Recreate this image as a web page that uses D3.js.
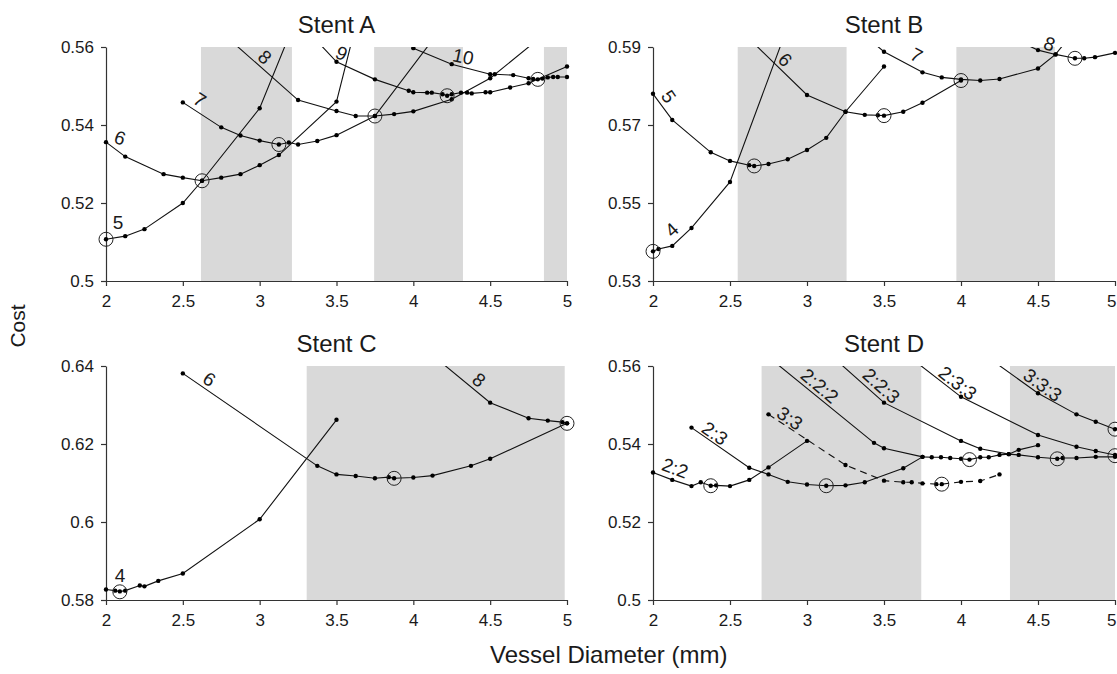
<!DOCTYPE html>
<html>
<head>
<meta charset="utf-8">
<script src="https://cdn.jsdelivr.net/npm/d3@7"></script>
<style>
  body { margin: 0; background: #fff; }
  svg text { font-family: "Liberation Sans", Arial, sans-serif; fill: #1a1a1a; }
</style>
</head>
<body>
<svg id="chart" width="1117" height="674"></svg>
<script>
// ---------- shared axis data ----------
const xTicks = [2, 2.5, 3, 3.5, 4, 4.5, 5];
const xTickLabels = ["2", "2.5", "3", "3.5", "4", "4.5", "5"];

// ---------- Stent A ----------
const aYTicks = [0.5, 0.52, 0.54, 0.56];
const aYTickLabels = ["0.5", "0.52", "0.54", "0.56"];
const aCurve5 = [[2.0,0.5107],[2.125,0.5115],[2.25,0.5133],[2.5,0.5200],[2.625,0.5257],[3.0,0.5443],[3.25,0.5685]];
const aCurve6 = [[2.0,0.5356],[2.125,0.5319],[2.375,0.5274],[2.5,0.5265],[2.625,0.5257],[2.75,0.5265],[2.875,0.5274],[3.0,0.5297],[3.125,0.5323],[3.5,0.5460],[3.75,0.5850]];
const aCurve7 = [[2.5,0.5458],[2.75,0.5394],[2.875,0.5373],[3.0,0.5360],[3.125,0.5350],[3.19,0.5355],[3.25,0.5350],[3.375,0.5359],[3.5,0.5374],[3.75,0.5423],[4.25,0.5683]];
const aCurve8 = [[2.75,0.5638],[3.25,0.5464],[3.5,0.5436],[3.625,0.5423],[3.75,0.5423],[3.875,0.5428],[4.0,0.5435],[4.25,0.5466],[4.5,0.5520],[5.0,0.5680]];
const aCurve9 = [[3.25,0.5667],[3.5,0.5562],[3.75,0.5517],[3.97,0.5488],[4.0,0.5484],[4.09,0.5483],[4.12,0.5483],[4.19,0.5479],[4.22,0.5475],[4.25,0.5479],[4.31,0.5483],[4.35,0.5483],[4.38,0.5481],[4.47,0.5484],[4.5,0.5484],[4.63,0.5496],[4.75,0.5507],[5.0,0.5550]];
const aCurve10 = [[4.0,0.5597],[4.25,0.5556],[4.5,0.5530],[4.53,0.5530],[4.65,0.5528],[4.75,0.5520],[4.78,0.5518],[4.81,0.5517],[4.84,0.5519],[4.875,0.5522],[4.91,0.5523],[4.94,0.5523],[5.0,0.5523]];
const aOptima = [[2.0,0.5107],[2.625,0.5257],[3.125,0.5350],[3.75,0.5423],[4.22,0.5475],[4.81,0.5517]];
const aBands = [[2.618,3.21],[3.745,4.323],[4.85,5.0]];
const aLabels = [["5",2.078,0.5149,0],["6",2.09,0.5367,20],["7",2.61,0.5464,33],["8",3.034,0.5574,42],["9",3.533,0.5584,25],["10",4.324,0.5575,12]];

// ---------- Stent B ----------
const bYTicks = [0.53, 0.55, 0.57, 0.59];
const bYTickLabels = ["0.53", "0.55", "0.57", "0.59"];
const bCurve4 = [[2.0,0.5376],[2.036,0.5382],[2.125,0.5390],[2.25,0.5436],[2.5,0.5554],[3.0,0.6086]];
const bCurve5 = [[2.0,0.5780],[2.125,0.5713],[2.375,0.5630],[2.5,0.5608],[2.625,0.5597],[2.657,0.5595],[2.75,0.5600],[2.875,0.5612],[3.0,0.5636],[3.125,0.5667],[3.25,0.5734],[3.5,0.5850]];
const bCurve6 = [[2.5,0.5969],[3.0,0.5777],[3.25,0.5734],[3.375,0.5726],[3.46,0.5725],[3.5,0.5724],[3.625,0.5734],[3.75,0.5757],[4.0,0.5814]];
const bCurve7 = [[3.25,0.5970],[3.5,0.5888],[3.75,0.5835],[3.875,0.5822],[4.0,0.5817],[4.125,0.5814],[4.25,0.5818],[4.5,0.5845],[4.614,0.5881],[4.75,0.5948]];
const bCurve8 = [[4.375,0.5915],[4.5,0.5892],[4.614,0.5881],[4.74,0.5871],[4.8,0.5871],[4.87,0.5874],[5.0,0.5885]];
const bOptima = [[2.0,0.5376],[2.657,0.5595],[3.5,0.5724],[4.0,0.5814],[4.74,0.5871]];
const bBands = [[2.55,3.257],[3.97,4.61]];
const bLabels = [["4",2.123,0.5431,-42],["5",2.101,0.5773,55],["6",2.858,0.5867,45],["7",3.71,0.5879,28],["8",4.575,0.5908,20]];

// ---------- Stent C ----------
const cYTicks = [0.58, 0.6, 0.62, 0.64];
const cYTickLabels = ["0.58", "0.6", "0.62", "0.64"];
const cCurve4 = [[2.0,0.5827],[2.06,0.5824],[2.09,0.5822],[2.125,0.5824],[2.22,0.5837],[2.25,0.5835],[2.34,0.5849],[2.5,0.5868],[3.0,0.6007],[3.5,0.6262]];
const cCurve6 = [[2.5,0.6381],[3.375,0.6144],[3.5,0.6122],[3.625,0.6118],[3.75,0.6112],[3.84,0.6115],[3.875,0.6112],[4.0,0.6114],[4.125,0.6119],[4.375,0.6144],[4.5,0.6162],[5.0,0.6253]];
const cCurve8 = [[4.0,0.6468],[4.5,0.6306],[4.75,0.6266],[4.875,0.6260],[4.97,0.6256],[5.0,0.6253]];
const cOptima = [[2.09,0.5821],[3.875,0.6112],[5.0,0.6253]];
const cBands = [[3.306,4.985]];
const cLabels = [["4",2.091,0.5864,0],["6",2.672,0.6366,34],["8",4.427,0.6364,39]];

// ---------- Stent D ----------
const dYTicks = [0.5, 0.52, 0.54, 0.56];
const dYTickLabels = ["0.5", "0.52", "0.54", "0.56"];
const d22 = [[2.0,0.5327],[2.125,0.5308],[2.25,0.5292],[2.31,0.5302],[2.375,0.5293],[2.41,0.5294],[2.5,0.5292],[2.625,0.5308],[2.75,0.5340],[3.0,0.5408]];
const d23 = [[2.25,0.5442],[2.625,0.5339],[2.75,0.5322],[2.875,0.5303],[3.0,0.5296],[3.125,0.5293],[3.25,0.5294],[3.375,0.5302],[3.625,0.5338],[3.75,0.5367]];
const d33 = [[2.75,0.5476],[3.25,0.5346],[3.5,0.5306],[3.625,0.5302],[3.68,0.5302],[3.75,0.5299],[3.84,0.5297],[3.875,0.5297],[4.0,0.5303],[4.125,0.5305],[4.25,0.5322]];
const d222 = [[2.75,0.5623],[3.435,0.5403],[3.5,0.5389],[3.75,0.5367],[3.81,0.5366],[3.87,0.5366],[3.93,0.5364],[4.0,0.5362],[4.055,0.5360],[4.125,0.5366],[4.18,0.5366],[4.25,0.5372],[4.31,0.5374],[4.375,0.5385],[4.5,0.5397]];
const d223 = [[3.0,0.5682],[3.5,0.5506],[4.0,0.5408],[4.125,0.5388],[4.31,0.5374],[4.375,0.5372],[4.5,0.5366],[4.625,0.5362],[4.66,0.5364],[4.75,0.5364],[4.875,0.5367],[5.0,0.5367]];
const d233 = [[3.5,0.5674],[4.0,0.5521],[4.5,0.5423],[4.75,0.5393],[4.875,0.5382],[5.0,0.5372]];
const d333 = [[4.0,0.5672],[4.5,0.5530],[4.75,0.5476],[4.875,0.5457],[5.0,0.5438]];
const dOptima = [[2.375,0.5293],[3.125,0.5293],[3.875,0.5297],[4.055,0.5360],[4.625,0.5362],[5.0,0.5370],[5.0,0.5438]];
const dBands = [[2.705,3.742],[4.318,5.0]];
const dLabels = [["2:2",2.143,0.5338,20],["2:3",2.402,0.5427,35],["3:3",2.888,0.5466,34],["2:2:2",3.082,0.5549,40],["2:2:3",3.482,0.5549,42],["2:3:3",3.979,0.5556,38],["3:3:3",4.53,0.5551,36]];

// ---------- panel assembly ----------
const panels = [
  { id: "A", title: "Stent A", box: [106, 47, 567, 281], yTicks: aYTicks, yLabels: aYTickLabels,
    curves: [aCurve5, aCurve6, aCurve7, aCurve8, aCurve9, aCurve10].map(p => ({ pts: p, dashed: false })),
    optima: aOptima, bands: aBands, labels: aLabels },
  { id: "B", title: "Stent B", box: [653, 47, 1115, 281], yTicks: bYTicks, yLabels: bYTickLabels,
    curves: [bCurve4, bCurve5, bCurve6, bCurve7, bCurve8].map(p => ({ pts: p, dashed: false })),
    optima: bOptima, bands: bBands, labels: bLabels },
  { id: "C", title: "Stent C", box: [106, 366, 567, 600], yTicks: cYTicks, yLabels: cYTickLabels,
    curves: [cCurve4, cCurve6, cCurve8].map(p => ({ pts: p, dashed: false })),
    optima: cOptima, bands: cBands, labels: cLabels },
  { id: "D", title: "Stent D", box: [653, 366, 1115, 600], yTicks: dYTicks, yLabels: dYTickLabels,
    curves: [
      { pts: d22, dashed: false }, { pts: d23, dashed: false }, { pts: d33, dashed: true },
      { pts: d222, dashed: false }, { pts: d223, dashed: false }, { pts: d233, dashed: false }, { pts: d333, dashed: false }
    ],
    optima: dOptima, bands: dBands, labels: dLabels }
];

const svg = d3.select("#chart");
const defs = svg.append("defs");
const W = 1117;

panels.forEach(p => {
  const [x0, y0, x1, y1] = p.box;
  const x = d3.scaleLinear().domain([2, 5]).range([x0, x1]);
  const y = d3.scaleLinear().domain([p.yTicks[0], p.yTicks[p.yTicks.length - 1]]).range([y1, y0]);
  const g = svg.append("g").attr("class", "panel-" + p.id);

  defs.append("clipPath").attr("id", "clip" + p.id)
    .append("rect").attr("x", x0 - 6).attr("y", y0).attr("width", x1 - x0 + 12).attr("height", y1 - y0 + 6);

  // shaded diameter ranges
  g.append("g").selectAll("rect").data(p.bands).join("rect")
    .attr("x", d => x(d[0])).attr("y", y0)
    .attr("width", d => x(d[1]) - x(d[0])).attr("height", y1 - y0)
    .attr("fill", "#d9d9d9");

  // axes
  const yAxis = d3.axisLeft(y).tickValues(p.yTicks).tickFormat((d, i) => p.yLabels[i])
    .tickSize(5).tickSizeOuter(0).tickPadding(7);
  const xAxis = d3.axisBottom(x).tickValues(xTicks).tickFormat((d, i) => xTickLabels[i])
    .tickSize(5).tickSizeOuter(0).tickPadding(9);
  const ya = g.append("g").attr("transform", `translate(${x0},0)`).call(yAxis);
  const xa = g.append("g").attr("transform", `translate(0,${y1})`).call(xAxis);
  [ya, xa].forEach(a => {
    a.select(".domain").attr("stroke", "#333").attr("stroke-width", 1.2);
    a.selectAll(".tick line").attr("stroke", "#333").attr("stroke-width", 1.2);
    a.selectAll(".tick text").attr("font-size", 17).attr("fill", "#1a1a1a")
      .attr("font-family", "Liberation Sans, Arial, sans-serif");
  });
  // keep the rightmost tick label inside the page
  xa.selectAll(".tick text").each(function (d) {
    const bb = this.getBBox();
    const right = x(d) + bb.x + bb.width;
    if (right > W - 1) d3.select(this).attr("dx", (W - 1 - right) + "px");
  });

  // cost curves
  const line = d3.line().x(d => x(d[0])).y(d => y(d[1]));
  const plot = g.append("g").attr("clip-path", `url(#clip${p.id})`);
  p.curves.forEach(c => {
    plot.append("path").datum(c.pts).attr("d", line)
      .attr("fill", "none").attr("stroke", "#111").attr("stroke-width", 1.1)
      .attr("stroke-dasharray", c.dashed ? "7,5" : null);
    plot.append("g").selectAll("circle").data(c.pts).join("circle")
      .attr("cx", d => x(d[0])).attr("cy", d => y(d[1])).attr("r", 2.2).attr("fill", "#000");
  });

  // optimum markers
  g.append("g").selectAll("circle").data(p.optima).join("circle")
    .attr("cx", d => x(d[0])).attr("cy", d => y(d[1])).attr("r", 7)
    .attr("fill", "none").attr("stroke", "#222").attr("stroke-width", 1);

  // curve labels
  g.append("g").selectAll("text").data(p.labels).join("text")
    .attr("transform", d => `translate(${x(d[1])},${y(d[2])}) rotate(${d[3]})`)
    .attr("text-anchor", "middle").attr("dominant-baseline", "central")
    .attr("font-size", 19).text(d => d[0]);

  // panel title
  g.append("text").attr("x", (x0 + x1) / 2).attr("y", 32.5 + (y0 - 47))
    .attr("text-anchor", "middle").attr("font-size", 24).text(p.title);
});

// shared axis titles
svg.append("text").attr("transform", "translate(25,326) rotate(-90)")
  .attr("text-anchor", "middle").attr("font-size", 21).text("Cost");
svg.append("text").attr("x", 490).attr("y", 663)
  .attr("text-anchor", "start").attr("font-size", 24).text("Vessel Diameter (mm)");
</script>
</body>
</html>
